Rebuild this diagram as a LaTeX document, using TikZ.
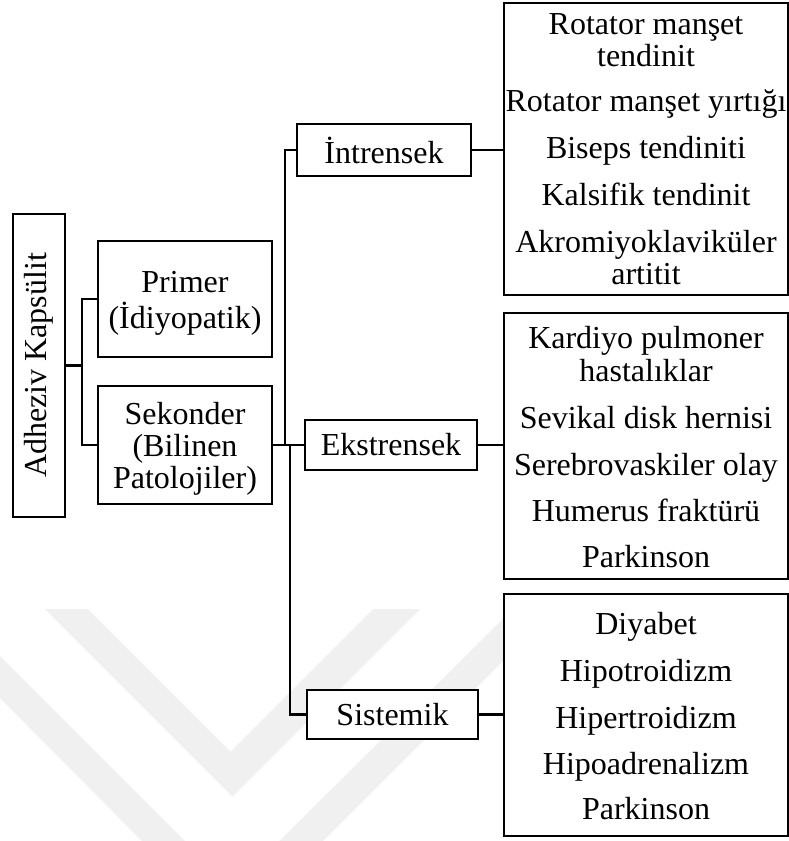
\documentclass[tikz,border=0pt]{standalone}
\usepackage{fontspec}
\setmainfont{Liberation Serif}
\usepackage{graphicx}
\begin{document}
\begin{tikzpicture}[x=1pt,y=-1pt,
  box/.style={draw, line width=2.9pt, fill=white, inner sep=0pt, align=center,
    font=\fontsize{32}{33}\selectfont},
  link/.style={line width=2.7pt},
  lbl/.style={inner sep=0pt, align=center, font=\fontsize{32}{33}\selectfont},
  item/.style={anchor=base, inner sep=0pt, font=\fontsize{32}{33}\selectfont},
  wm/.style={fill=black!6, draw=none}]
\useasboundingbox (0,0) rectangle (789,841);
% watermark
\begin{scope}
\clip (0,0) rectangle (789,841);
\fill[wm] (45,609) -- (88,609) -- (230.5,751.5) -- (373,609) -- (420,609) -- (232.5,796.5) -- cycle;
\fill[wm] (0,656) -- (232,888) -- (512,610) -- (554,610) -- (232,932) -- (0,698) -- cycle;
\end{scope}
% boxes
\node[box, minimum width=52pt, minimum height=303pt] (adh) at (39,365.5) {\rotatebox{90}{Adheziv Kapsülit}};
\node[box, minimum width=174pt, minimum height=116pt] (prim) at (185,299) {};
\node[lbl, font=\fontsize{32}{36}\selectfont] (primt) at (185,303) {Primer\\(İdiyopatik)};
\node[box, minimum width=174pt, minimum height=118pt] (sek) at (185,445) {};
\node[lbl, font=\fontsize{32}{32}\selectfont] (sekt) at (185,449) {Sekonder\\(Bilinen\\Patolojiler)};
\node[box, minimum width=174pt, minimum height=52pt] (intr) at (384,150) {İntrensek};
\node[box, minimum width=172pt, minimum height=50pt] (eks) at (391,445) {Ekstrensek};
\node[box, minimum width=171pt, minimum height=49pt] (sis) at (392.5,714.5) {Sistemik};
\node[box, minimum width=284pt, minimum height=292pt] (lst1) at (646,149) {};
\node[box, minimum width=284pt, minimum height=266pt] (lst2) at (646,446) {};
\node[box, minimum width=284pt, minimum height=242pt] (lst3) at (646,715) {};
% list items
\foreach \t/\y [count=\i] in {Rotator manşet/34, tendinit/66, Rotator manşet yırtığı/111,
  Biseps tendiniti/158, Kalsifik tendinit/205, Akromiyoklaviküler/252, artitit/284}
  \node[item] (a\i) at (646,\y) {\t};
\foreach \t/\y [count=\i] in {Kardiyo pulmoner/348, hastalıklar/381, Sevikal disk hernisi/428,
  Serebrovaskiler olay/475, Humerus fraktürü/521, Parkinson/567}
  \node[item] (b\i) at (646,\y) {\t};
\foreach \t/\y [count=\i] in {Diyabet/634, Hipotroidizm/681, Hipertroidizm/728,
  Hipoadrenalizm/774, Parkinson/819}
  \node[item] (c\i) at (646,\y) {\t};
% connectors
\coordinate (j1) at (82,0);
\coordinate (j2) at (285,0);
\coordinate (j3) at (290,0);
\draw[link] (adh.east) -- (adh.east -| j1);
\draw[link] (prim.west) -| (j1 |- sek.west) -- (sek.west);
\draw[link] (sek.east) -- (eks.west);
\draw[link] (intr.west) -| (j2 |- sek.east);
\draw[link] (j3 |- sek.east) |- (sis.west);
\draw[link] (intr.east) -- (intr.east -| lst1.west);
\draw[link] (eks.east) -- (eks.east -| lst2.west);
\draw[link] (sis.east) -- (sis.east -| lst3.west);
\end{tikzpicture}
\end{document}
